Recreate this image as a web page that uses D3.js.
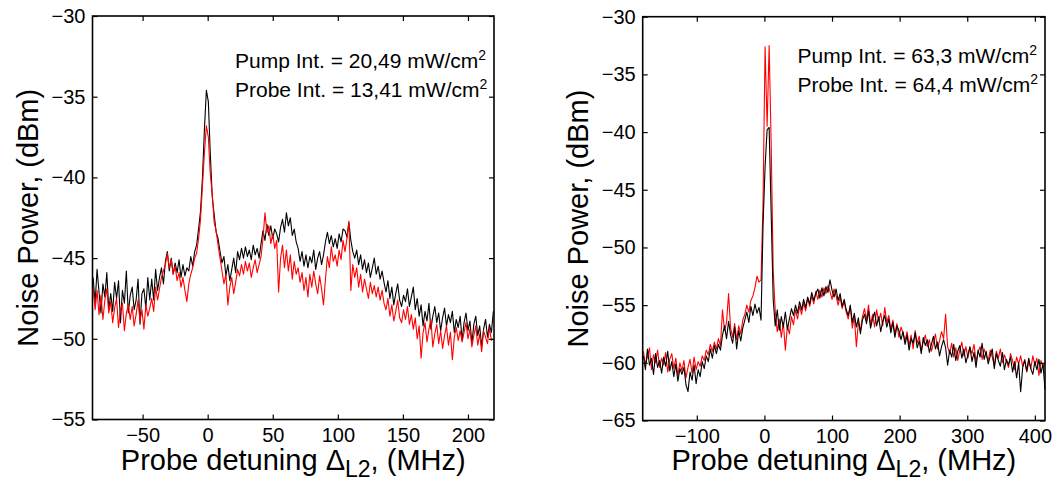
<!DOCTYPE html>
<html>
<head>
<meta charset="utf-8">
<script src="https://cdn.jsdelivr.net/npm/d3@7"></script>
<style>
  body { margin: 0; background: #fff; }
  svg text { font-family: Arial, "Liberation Sans", Helvetica, sans-serif; fill: #000; }
</style>
</head>
<body>
<div id="container"></div>
<script>
/* CONSTANTS AND GLOBALS */
const width = 1056,
  height = 481;

// left panel: detuning grid starts at -88 MHz, 1.5 MHz steps
const leftStart = -88, leftStep = 1.5;
const leftXTicks = [-50, 0, 50, 100, 150, 200];
const leftYTicks = [-55, -50, -45, -40, -35, -30];
const leftNotes = ["Pump Int. = 20,49 mW/cm", "Probe Int. = 13,41 mW/cm"];

const leftBlack = [
  -46.2, -47.8, -45.7, -47.1, -48.4, -46.6, -47.4, -45.9, -48.2, -47.2,
  -48.3, -46.5, -47.5, -46.4, -49.0, -47.0, -47.8, -45.8, -48.4, -47.3,
  -46.8, -48.2, -47.6, -46.3, -49.1, -47.2, -46.9, -48.1, -46.2, -47.6,
  -46.3, -47.6, -45.7, -47.0, -46.2, -45.6, -46.6, -45.2, -44.6, -45.8,
  -45.0, -46.0, -45.3, -45.9, -45.1, -46.2, -45.4, -46.1, -45.6, -45.8,
  -44.9, -45.5, -44.6, -44.2, -43.2, -42.1, -40.0, -37.0, -34.6, -35.3,
  -38.5, -41.2, -42.3, -43.4, -43.8, -44.6, -45.3, -44.9, -46.1, -45.4,
  -46.4, -45.7, -45.0, -45.9, -44.6, -45.1, -44.4, -45.0, -44.3, -44.9,
  -44.5, -45.1, -44.2, -44.8, -44.4, -45.0, -44.1, -43.3, -43.9, -42.9,
  -43.6, -43.0, -43.8, -43.2, -43.5, -44.0, -43.1, -42.6, -43.4, -42.2,
  -43.0, -42.5, -43.6, -43.2, -44.0, -44.4, -45.2, -44.6, -45.5, -44.8,
  -45.6, -44.9, -45.3, -44.5, -45.7, -45.0, -44.6, -45.4, -44.8, -44.0,
  -43.4, -44.1, -43.6, -44.3, -43.8, -44.4, -43.5, -44.0, -43.2, -43.3,
  -43.7, -42.8, -43.9, -44.6, -45.0, -44.5, -45.4, -44.8, -45.7, -45.1,
  -45.9, -45.3, -46.2, -45.6, -45.0, -46.0, -45.5, -46.3, -45.8, -46.5,
  -47.1, -46.4, -47.5, -46.8, -47.9, -47.2, -46.6, -47.6, -48.0, -47.3,
  -47.7, -46.9, -48.0, -47.4, -46.8, -48.2, -47.5, -48.6, -47.9, -49.2,
  -48.3, -48.9, -47.8, -49.4, -48.6, -48.0, -49.0, -48.4, -49.5, -48.7,
  -48.1, -49.2, -48.5, -49.0, -48.3, -49.6, -48.8, -49.3, -48.6, -50.1,
  -49.0, -48.4, -49.5, -48.9, -50.3, -49.1, -48.6, -49.8, -49.2, -50.5,
  -49.4, -48.8, -49.9, -49.1, -49.6, -48.3
];

const leftRed = [
  -46.8, -48.2, -47.0, -48.5, -47.3, -48.8, -47.6, -46.9, -48.4, -47.7,
  -49.0, -48.1, -47.5, -49.3, -48.2, -47.8, -49.5, -48.4, -47.9, -48.8,
  -48.0, -49.2, -48.5, -47.6, -48.9, -48.2, -49.4, -47.9, -48.6, -48.1,
  -47.5, -48.3, -46.8, -47.6, -46.9, -46.2, -45.8, -45.4, -44.7, -45.6,
  -45.1, -46.0, -45.5, -46.4, -45.9, -46.8, -46.2, -47.0, -47.7, -46.6,
  -46.0, -45.6, -45.0, -44.7, -43.8, -42.6, -40.5, -38.5, -36.8, -37.5,
  -39.8, -41.0, -42.8, -43.3, -44.2, -45.0, -45.8, -46.6, -46.0, -47.9,
  -46.8, -46.2, -47.2, -46.5, -45.7, -46.1, -45.4, -46.0, -45.2, -45.8,
  -45.3, -46.2, -45.6, -45.1, -45.9, -45.4, -44.9, -43.8, -42.2, -43.4,
  -43.0, -44.1, -43.5, -44.4, -43.9, -47.1, -45.0, -44.2, -45.6, -44.5,
  -45.8, -44.8, -46.3, -45.2, -46.0, -45.6, -46.5, -45.9, -47.0, -46.2,
  -47.4, -46.0, -46.8, -45.8, -46.6, -47.2, -46.1, -46.9, -47.9, -46.3,
  -44.9, -45.6, -44.3, -45.2, -44.8, -45.5, -44.5, -45.1, -43.9, -44.6,
  -43.8, -42.7, -47.0, -45.4, -46.2, -45.6, -46.8, -46.0, -47.1, -46.3,
  -46.9, -47.5, -46.5, -47.2, -46.7, -47.4, -46.8, -47.6, -47.0, -47.8,
  -48.2, -47.5, -48.6, -47.9, -48.9, -48.3, -47.6, -48.7, -49.0, -48.2,
  -48.8, -48.0, -49.1, -48.5, -49.4, -48.7, -50.0, -49.2, -51.2, -49.6,
  -49.0, -50.2, -49.4, -48.8, -50.5, -49.7, -49.1, -50.3, -49.5, -50.6,
  -49.8, -49.2, -50.4, -49.6, -51.3, -49.9, -49.3, -50.1, -49.5, -50.2,
  -49.6, -49.0, -50.0, -49.4, -50.5, -49.8, -49.2, -50.4, -49.7, -50.8,
  -49.5, -49.9, -50.3, -49.3, -50.1, -50.0
];

// right panel: detuning grid starts at -179 MHz, 3 MHz steps
const rightStart = -179, rightStep = 3;
const rightXTicks = [-100, 0, 100, 200, 300, 400];
const rightYTicks = [-65, -60, -55, -50, -45, -40, -35, -30];
const rightNotes = ["Pump Int. = 63,3 mW/cm", "Probe Int. = 64,4 mW/cm"];

const rightBlack = [
  -59.4, -60.6, -58.8, -60.2, -59.6, -61.0, -59.2, -60.4, -59.8, -60.9,
  -59.5, -60.3, -59.0, -60.7, -59.9, -61.2, -60.1, -61.6, -60.5, -61.0,
  -60.4, -61.9, -62.5, -60.8, -61.5, -60.2, -61.8, -60.6, -61.2, -59.9,
  -60.5, -59.4, -59.9, -58.8, -59.6, -58.5, -59.2, -58.4, -58.9, -57.6,
  -56.8, -57.9, -56.4, -57.6, -58.3, -56.9, -58.8, -57.2, -58.1, -57.0,
  -56.3, -55.6, -56.5, -55.1, -55.9, -54.9, -55.7, -55.2, -56.3, -48.0,
  -43.0, -39.8, -39.6, -47.0, -54.5, -56.8, -55.4, -57.2, -56.0, -56.9,
  -55.6, -57.1, -56.2, -55.3, -55.9, -55.0, -55.7, -54.7, -55.4, -54.5,
  -55.2, -54.3, -54.9, -53.9, -54.6, -54.0, -53.6, -54.4, -53.5, -54.2,
  -53.4, -53.9, -52.8, -53.7, -54.3, -53.6, -54.6, -54.0, -55.1, -54.5,
  -55.4, -55.9, -55.0, -56.5, -55.7, -56.9, -56.1, -57.5, -56.3, -55.8,
  -56.6, -55.5, -57.0, -56.2, -55.6, -56.8, -56.0, -57.3, -56.4, -55.9,
  -56.9, -56.2, -57.4, -56.5, -57.8, -56.8, -57.2, -58.0, -57.3, -58.4,
  -57.6, -58.9, -57.9, -58.3, -57.4, -58.7, -58.1, -59.2, -57.8, -58.5,
  -58.0, -59.1, -58.4, -57.7, -58.8, -58.2, -59.4, -58.6, -58.0, -58.7,
  -60.2, -58.9, -59.5, -58.4, -59.8, -59.0, -58.5, -59.6, -58.8, -60.0,
  -59.3, -58.6, -59.9, -59.1, -60.4, -58.9, -59.5, -58.3, -59.7, -59.0,
  -60.1, -59.4, -58.8, -60.5, -59.2, -59.8, -60.3, -59.1, -60.6, -59.7,
  -60.2, -59.5, -60.8, -59.9, -61.3, -60.0, -62.5, -60.4, -59.8, -60.7,
  -59.6, -60.5, -61.0, -59.9, -60.6, -59.7, -60.9, -60.1, -62.3
];

const rightRed = [
  -59.0, -60.1, -59.5, -58.7, -60.6, -59.3, -60.0, -58.9, -60.4, -59.6,
  -60.2, -59.1, -60.8, -59.7, -59.2, -60.5, -59.6, -61.1, -60.0, -60.7,
  -59.8, -61.3, -60.4, -59.7, -60.9, -59.5, -60.6, -59.9, -60.3, -59.4,
  -59.8, -58.9, -59.3, -58.4, -59.0, -58.2, -58.8, -57.9, -58.5, -55.4,
  -57.2, -56.5, -54.0, -57.0, -57.8, -56.6, -58.0, -56.8, -57.5, -56.3,
  -55.8, -55.0, -55.6, -54.6, -54.2, -53.5, -52.5, -53.0, -52.8, -46.0,
  -32.6, -39.5, -32.5, -41.0, -52.0, -55.5, -57.3, -56.2, -57.8, -56.5,
  -58.9, -56.8, -57.5, -56.0, -56.7, -55.4, -56.2, -55.1, -55.8, -54.8,
  -55.5, -54.4, -55.1, -54.2, -54.9, -53.8, -54.5, -53.7, -54.3, -53.5,
  -54.0, -53.3, -53.8, -54.5, -53.6, -54.2, -55.0, -54.3, -55.3, -54.7,
  -55.6, -56.2, -55.1, -57.0, -56.0, -58.6, -56.5, -57.2, -56.0, -55.3,
  -56.3, -55.0, -56.7, -55.8, -56.9, -55.4, -56.4, -55.7, -56.8, -55.2,
  -56.5, -55.9, -57.1, -56.3, -57.5, -56.6, -57.8, -56.9, -57.4, -58.1,
  -57.3, -58.5, -57.6, -58.8, -57.2, -58.3, -57.7, -58.9, -58.2, -57.6,
  -58.6, -58.0, -59.0, -58.3, -57.5, -58.8, -58.1, -57.3, -57.9, -55.8,
  -58.6, -59.2, -58.3, -59.5, -58.7, -59.8, -58.9, -58.2, -59.4, -58.6,
  -59.6, -58.7, -59.2, -58.4, -59.9, -59.1, -58.6, -59.7, -58.8, -59.4,
  -59.8, -58.9, -59.5, -60.2, -59.0, -59.6, -58.8, -60.0, -59.3, -59.9,
  -60.4, -59.2, -59.8, -60.6, -59.5, -60.1, -59.4, -60.3, -59.7, -60.8,
  -59.9, -60.5, -59.4, -60.2, -59.6, -61.1, -59.8, -60.4, -60.0
];

// build the point tables from the arrays above
const toPoints = (start, step, vals) => vals.map((v, i) => ({ x: start + step * i, y: v }));

const panels = [
  {
    left: 92.5, right: 494, top: 16, bottom: 419.5,
    xDomain: [-88.5, 220], yDomain: [-55, -30],
    xTicks: leftXTicks, yTicks: leftYTicks, notes: leftNotes,
    noteX: 235, noteY: [68, 97],
    series: [
      { color: "#000000", data: toPoints(leftStart, leftStep, leftBlack) },
      { color: "#ff0000", data: toPoints(leftStart, leftStep, leftRed) }
    ]
  },
  {
    left: 642.7, right: 1045, top: 16.7, bottom: 420.5,
    xDomain: [-180, 415], yDomain: [-65, -30],
    xTicks: rightXTicks, yTicks: rightYTicks, notes: rightNotes,
    noteX: 797.5, noteY: [62.5, 92],
    series: [
      { color: "#ff0000", data: toPoints(rightStart, rightStep, rightRed) },
      { color: "#000000", data: toPoints(rightStart, rightStep, rightBlack) }
    ]
  }
];

const svg = d3.select("#container")
  .append("svg")
  .attr("width", width)
  .attr("height", height)
  .style("background-color", "#ffffff");

panels.forEach(drawPanel);

function drawPanel(p) {
  const xScale = d3.scaleLinear().domain(p.xDomain).range([p.left, p.right]);
  const yScale = d3.scaleLinear().domain(p.yDomain).range([p.bottom, p.top]);

  // traces
  const line = d3.line().x(d => xScale(d.x)).y(d => yScale(d.y));
  p.series.forEach(s => {
    svg.append("path")
      .datum(s.data)
      .attr("fill", "none")
      .attr("stroke", s.color)
      .attr("stroke-width", 1.1)
      .attr("stroke-linejoin", "round")
      .attr("d", line);
  });

  // axes, ticks pointing inward (matlab box style)
  const g = svg.append("g");
  g.append("g")
    .attr("transform", `translate(0, ${p.bottom})`)
    .call(d3.axisBottom(xScale).tickValues(p.xTicks).tickSize(-5).tickPadding(8))
    .call(styleAxis);
  g.append("g")
    .attr("transform", `translate(0, ${p.top})`)
    .call(d3.axisTop(xScale).tickValues(p.xTicks).tickSize(-5).tickFormat(""))
    .call(styleAxis);
  g.append("g")
    .attr("transform", `translate(${p.left}, 0)`)
    .call(d3.axisLeft(yScale).tickValues(p.yTicks).tickSize(-5).tickPadding(7))
    .call(styleAxis);
  g.append("g")
    .attr("transform", `translate(${p.right}, 0)`)
    .call(d3.axisRight(yScale).tickValues(p.yTicks).tickSize(-5).tickFormat(""))
    .call(styleAxis);

  // frame
  svg.append("rect")
    .attr("x", p.left).attr("y", p.top)
    .attr("width", p.right - p.left).attr("height", p.bottom - p.top)
    .attr("fill", "none").attr("stroke", "#000").attr("stroke-width", 1.6);

  // intensity notes
  p.notes.forEach((t, i) => {
    const txt = svg.append("text")
      .attr("x", p.noteX).attr("y", p.noteY[i])
      .style("font-size", "21px");
    txt.append("tspan").text(t);
    txt.append("tspan").attr("dy", -8).style("font-size", "14px").text("2");
  });

  // axis titles
  const cx = (p.left + p.right) / 2,
    cy = (p.top + p.bottom) / 2;
  const xt = svg.append("text")
    .attr("x", cx).attr("y", 470)
    .attr("text-anchor", "middle")
    .style("font-size", "29px");
  xt.append("tspan").text("Probe detuning \u0394");
  xt.append("tspan").attr("dy", 7).style("font-size", "23px").text("L2");
  xt.append("tspan").attr("dy", -7).text(", (MHz)");

  svg.append("text")
    .attr("transform", `translate(${p.left - 54.5}, ${cy}) rotate(-90)`)
    .attr("text-anchor", "middle")
    .style("font-size", "29px")
    .text("Noise Power, (dBm)");
}

function styleAxis(sel) {
  sel.select(".domain").remove();
  sel.selectAll(".tick line").attr("stroke", "#000").attr("stroke-width", 1.2);
  sel.selectAll(".tick text").style("font-size", "20px").attr("fill", "#000");
}
</script>
</body>
</html>
